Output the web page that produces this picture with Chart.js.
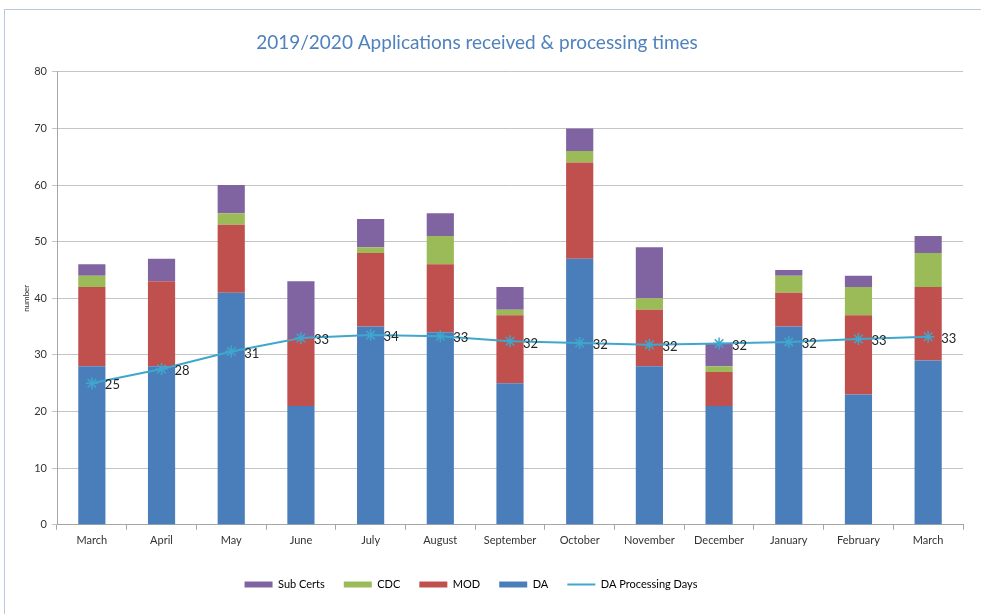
<!DOCTYPE html>
<html>
<head>
    <title>2019/2020 Applications received & processing times</title>
    <script src="https://cdn.jsdelivr.net/npm/chart.js"></script>
    <style>
        body { margin: 0; background: #fff; }
        #wrap { position: relative; width: 981px; height: 614px; }
        #frame { position: absolute; left: 4px; top: 9px; right: 0; bottom: 0;
                 border-top: 1px solid #b7c9df; border-left: 1px solid #b7c9df; }
        canvas { position: absolute; left: 0; top: 0; }
    </style>
</head>
<body>
    <div id="wrap">
        <div id="frame"></div>
        <canvas id="grafico" width="981" height="614"></canvas>
    </div>

    <script>
        var meses = ['March', 'April', 'May', 'June', 'July', 'August', 'September',
                     'October', 'November', 'December', 'January', 'February', 'March'];
        var da       = [28, 28, 41, 21, 35, 34, 25, 47, 28, 21, 35, 23, 29];
        var mod      = [14, 15, 12, 12, 13, 12, 12, 17, 10,  6,  6, 14, 13];
        var cdc      = [ 2,  0,  2,  0,  1,  5,  1,  2,  2,  1,  3,  5,  6];
        var subCerts = [ 2,  4,  5, 10,  5,  4,  4,  4,  9,  4,  1,  2,  3];
        var diasDA   = [25, 27.5, 30.6, 33, 33.5, 33.3, 32.4, 32.1, 31.8, 32, 32.3, 32.8, 33.2];
        var ticksY   = [0, 10, 20, 30, 40, 50, 60, 70, 80];

        // orden de la leyenda: Sub Certs, CDC, MOD, DA, linea
        var ordenLeyenda = [3, 2, 1, 0, 4];

        var fuente = 'Lato, "Open Sans", sans-serif';

        // etiquetas de la linea (valor redondeado a la derecha del punto)
        var etiquetas = {
            id: 'etiquetas',
            afterLayout: function(chart) {
                // el titulo y la leyenda del original no quedan centrados en el lienzo
                chart.titleBlock.left -= 12;
                chart.titleBlock.right -= 12;
                chart.legend.left -= 18;
                chart.legend.right -= 18;
            },
            afterDatasetsDraw: function(chart) {
                var ctx = chart.ctx;
                var meta = chart.getDatasetMeta(4);
                ctx.save();
                ctx.font = '13px ' + fuente;
                ctx.fillStyle = '#262626';
                ctx.textAlign = 'left';
                ctx.textBaseline = 'middle';
                meta.data.forEach(function(p, i) {
                    ctx.fillText(Math.round(diasDA[i]), p.x + 13, p.y + 2);
                });
                ctx.restore();
            }
        };

        var ctx = document.getElementById('grafico').getContext('2d');
        var chart = new Chart(ctx, {
            type: 'bar',
            data: {
                labels: meses,
                datasets: [
                    { label: 'DA', data: da, backgroundColor: '#4a7ebb', stack: 'a' },
                    { label: 'MOD', data: mod, backgroundColor: '#c0504d', stack: 'a' },
                    { label: 'CDC', data: cdc, backgroundColor: '#9bbb59', stack: 'a' },
                    { label: 'Sub Certs', data: subCerts, backgroundColor: '#8064a2', stack: 'a' },
                    {
                        type: 'line',
                        label: 'DA Processing Days',
                        data: diasDA,
                        stack: 'b',
                        order: -1,
                        borderColor: '#3fa7cc',
                        backgroundColor: '#3fa7cc',
                        borderWidth: 2,
                        pointStyle: 'star',
                        pointRadius: 6,
                        pointBorderWidth: 1.5,
                        pointBorderColor: '#3fa7cc',
                        tension: 0
                    }
                ]
            },
            options: {
                responsive: false,
                animation: false,
                layout: { padding: { left: 15, right: 18, top: 10, bottom: 14 } },
                datasets: {
                    bar: { categoryPercentage: 1, barPercentage: 0.39 }
                },
                plugins: {
                    title: {
                        display: true,
                        text: '2019/2020 Applications received & processing times',
                        color: '#4f81bd',
                        font: { family: fuente, size: 19, weight: 'normal' },
                        padding: { top: 21, bottom: 18 }
                    },
                    legend: {
                        position: 'bottom',
                        labels: {
                            color: '#333',
                            font: { family: fuente, size: 11 },
                            usePointStyle: true,
                            pointStyleWidth: 28,
                            boxHeight: 6,
                            padding: 19,
                            generateLabels: function(chart) {
                                return ordenLeyenda.map(function(i) {
                                    var ds = chart.data.datasets[i];
                                    var esLinea = ds.type === 'line';
                                    return {
                                        text: ds.label,
                                        datasetIndex: i,
                                        fillStyle: ds.backgroundColor,
                                        strokeStyle: esLinea ? ds.borderColor : ds.backgroundColor,
                                        lineWidth: esLinea ? 2 : 0,
                                        pointStyle: esLinea ? 'line' : 'rect',
                                        hidden: false
                                    };
                                });
                            }
                        }
                    },
                    tooltip: { enabled: false }
                },
                scales: {
                    x: {
                        stacked: true,
                        afterFit: function(scale) { scale.height += 9; },
                        grid: { offset: true, drawOnChartArea: false, tickLength: 5, color: '#a6a6a6' },
                        border: { color: '#a6a6a6' },
                        ticks: { color: '#333', font: { family: fuente, size: 11 }, padding: 4, maxRotation: 0 }
                    },
                    y: {
                        stacked: true,
                        min: 0,
                        max: 80,
                        afterBuildTicks: function(scale) {
                            scale.ticks = ticksY.map(function(v) { return { value: v }; });
                        },
                        afterFit: function(scale) { scale.width = 42; },
                        grid: { color: '#c4c4c4', tickLength: 5 },
                        border: { color: '#a6a6a6' },
                        ticks: { color: '#333', font: { family: fuente, size: 11 }, padding: 5 },
                        title: {
                            display: true,
                            text: 'number',
                            color: '#333',
                            font: { family: fuente, size: 8 },
                            padding: { top: 7, bottom: 0 }
                        }
                    }
                }
            },
            plugins: [etiquetas]
        });
    </script>
</body>
</html>
